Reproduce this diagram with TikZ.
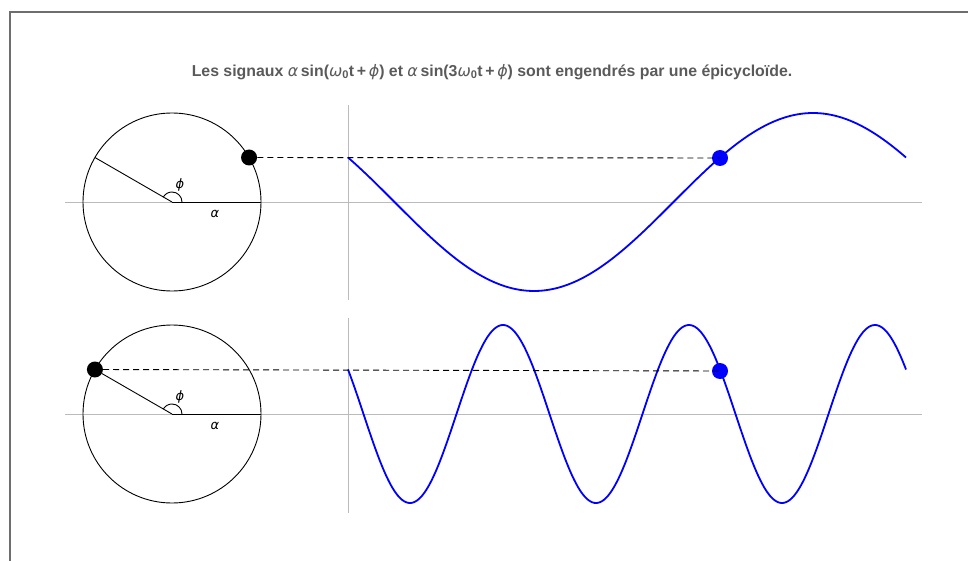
\documentclass[tikz,border=0pt]{standalone}
\usepackage{fontspec}
\setmainfont{Liberation Sans}
\newfontfamily\grk{DejaVu Sans}
\usepackage{tikz}
\usetikzlibrary{calc}
\definecolor{framegray}{HTML}{6E6E6E}
\definecolor{titlegray}{HTML}{5A5A5A}
\definecolor{axisgray}{HTML}{BBBBBB}
\tikzset{
    axis/.style={axisgray, line width=0.8pt},
    wheel/.style={black, line width=0.9pt},
    pointer/.style={circle, fill=black, inner sep=0pt, minimum size=16pt},
    tracer/.style={circle, fill=blue, inner sep=0pt, minimum size=16pt},
    signal/.style={blue, line width=1.8pt},
    link/.style={line width=0.9pt, dash pattern=on 6pt off 4pt},
    glabel/.style={font=\fontsize{13}{15}\selectfont}
}
\newcommand{\gk}[1]{{\grk\mdseries\itshape #1}}

\begin{document}
\begin{tikzpicture}[x=1pt, y=-1pt]
            \useasboundingbox (0,0) rectangle (968,561);
            \draw[framegray, line width=1.2pt] (10,561) -- (10,12) -- (968,12);

            \node[font=\bfseries\fontsize{15.85}{18}\selectfont, text=titlegray] (title) at (492,72)
                {Les signaux \gk{α}\,sin(\gk{ω}\textsubscript{0}t\,+\,\gk{ϕ}) et \gk{α}\,sin(3\gk{ω}\textsubscript{0}t\,+\,\gk{ϕ}) sont engendrés par une épicycloïde.};

            \coordinate (c1) at (172,202);
            \coordinate (c2) at (172,414);

            \draw[axis] (65,202) -- (922,202);
            \draw[axis] (348,105) -- (348,300);
            \draw[axis] (65,414) -- (922,414);
            \draw[axis] (348,318) -- (348,513);

            \draw[wheel] (c1) circle (89);
            \draw[wheel] (c1) -- ++(0:89);
            \draw[wheel] (c1) -- ++(-150:89);
            \draw[wheel] ([shift={(0:10)}]c1) arc (0:-150:10);
            \node[glabel] (phi1) at (180,185) {\gk{ϕ}};
            \node[glabel] (alpha1) at (215,214) {\gk{α}};

            \draw[wheel] (c2) circle (89);
            \draw[wheel] (c2) -- ++(0:89);
            \draw[wheel] ([shift={(0:10)}]c2) arc (0:-150:10);
            \node[glabel] (phi2) at (180,397) {\gk{ϕ}};
            \node[glabel] (alpha2) at (215,426) {\gk{α}};

            \draw[signal] plot[domain=150:510, samples=150] ({348+1.55*(\x-150)}, {202-89*sin(\x)});
            \draw[signal] plot[domain=150:510, samples=300] ({348+1.55*(\x-150)}, {414-89*sin(150+3*(\x-150))});

            \node[pointer] (p1) at ($(c1)+(-30:89)$) {};
            \node[pointer] (p2) at ($(c2)+(-150:89)$) {};
            \node[tracer] (t1) at (720,158) {};
            \node[tracer] (t2) at (720,371) {};

            \draw[wheel] (c2) -- (p2);
            \draw[link] (p1) -- (t1.center);
            \draw[link] (p2) -- (t2.center);
        \end{tikzpicture}
\end{document}
